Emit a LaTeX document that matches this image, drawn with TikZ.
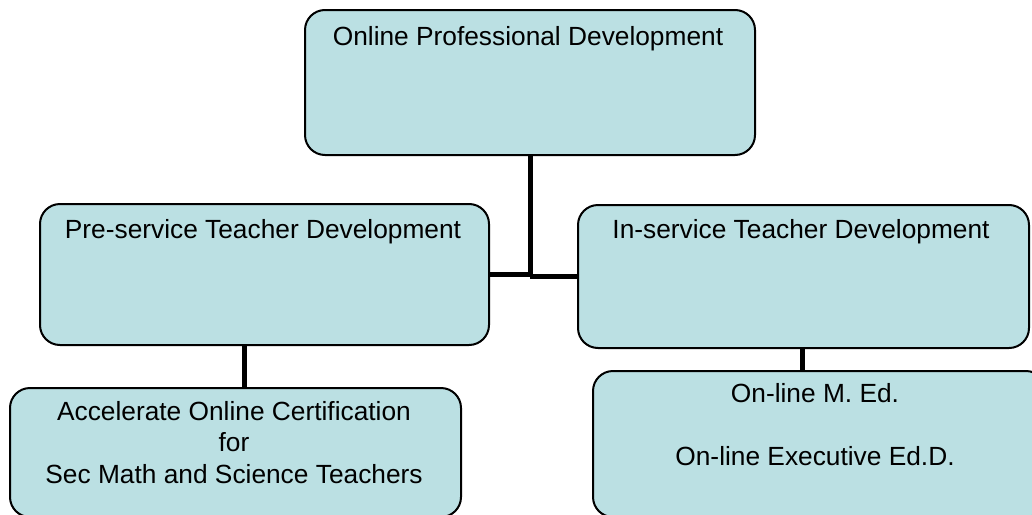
\documentclass[tikz,border=0pt]{standalone}
\usepackage{fontspec}
\setmainfont{Liberation Sans}
\definecolor{boxfill}{HTML}{BBE0E3}
\begin{document}
\begin{tikzpicture}[x=1pt,y=-1pt,
  orgbox/.style={draw=black,line width=2pt,fill=boxfill,rounded corners=20pt,
    rectangle,inner sep=0pt,anchor=north west},
  boxtext/.style={anchor=north,inner sep=0pt,align=center,
    font=\fontsize{26.3}{31.5}\selectfont},
  link/.style={line width=5pt}]
\useasboundingbox (0,0) rectangle (1032,514);
\clip (0,0) rectangle (1032,514);
% boxes
\node[orgbox,minimum width=450pt,minimum height=145pt] (top) at (304,9) {};
\node[orgbox,minimum width=449pt,minimum height=141pt] (left) at (39,203) {};
\node[orgbox,minimum width=451pt,minimum height=143pt] (right) at (577,204) {};
\node[orgbox,minimum width=451pt,minimum height=129pt] (bl) at (9,387) {};
\node[orgbox,minimum width=453pt,minimum height=146pt] (br) at (592,370) {};
% texts
\node[boxtext] (ttop) at (528,26) {Online Professional Development};
\node[boxtext] (tleft) at (263,219) {Pre-service Teacher Development};
\node[boxtext] (tright) at (801,219) {In-service Teacher Development};
\node[boxtext] (tbl) at (234,401) {Accelerate Online Certification\\for\\Sec Math and Science Teachers};
\node[boxtext] (tbr) at (815,383) {On-line M. Ed.\\[32pt]On-line Executive Ed.D.};
% connectors
\coordinate (j) at (530,277);
\coordinate (c1) at (244,0);
\coordinate (c2) at (802,0);
\draw[link] (top.south -| j) -- (j);
\draw[link] (left.east) -- (left.east -| j);
\draw[link] (right.west) -- (right.west -| j);
\draw[link] (left.south -| c1) -- (bl.north -| c1);
\draw[link] (right.south -| c2) -- (br.north -| c2);
\end{tikzpicture}
\end{document}
